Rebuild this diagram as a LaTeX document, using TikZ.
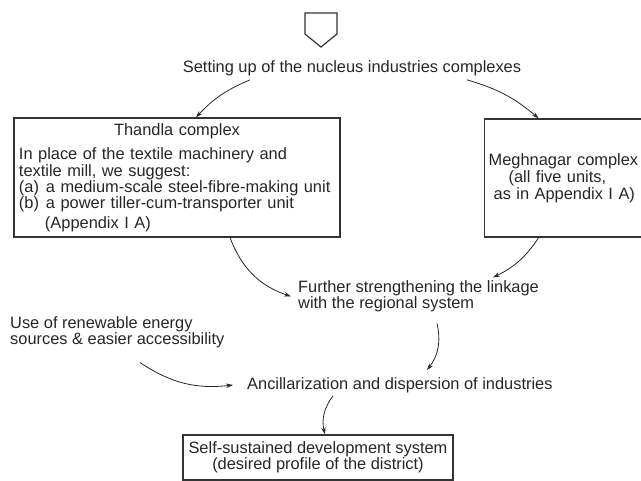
\documentclass[tikz,border=0pt]{standalone}
\usepackage{fontspec}
\setmainfont{Liberation Sans}
\usetikzlibrary{arrows.meta}

\begin{document}
\begin{tikzpicture}[x=1pt, y=-1pt,
    every node/.style={font=\fontsize{16.4}{16.4}\selectfont, text=black!85},
    box/.style={draw=black!80, line width=1.3pt, inner ysep=4pt},
    lbl/.style={inner sep=0pt, align=left},
    link/.style={draw=black!85, line width=0.8pt, -{Stealth[length=7pt,width=4.5pt]}}]
    \useasboundingbox (0,0) rectangle (641,481);

    \draw[black!80, line width=1.2pt] (305,13) -- (337,13) -- (337,34) -- (321,47) -- (305,34) -- cycle;

    \node[lbl] (setting) at (352,68) {Setting up of the nucleus industries complexes};

    \node[box, text width=316pt, inner xsep=5pt, minimum height=119pt, align=left] (thandla) at (177,177.5)
        {\centerline{Thandla complex}\vspace{8pt}
         \noindent In place of the textile machinery and\\
         textile mill, we suggest:\\
         \makebox[27pt][l]{(a)}a medium-scale steel-fibre-making unit\\
         \makebox[27pt][l]{(b)}a power tiller-cum-transporter unit\\[3pt]
         \hspace*{26pt}(Appendix I A)};

    \node[box, anchor=west, text width=158pt, inner xsep=4pt, minimum height=118pt, align=left] (meghnagar) at (484,178)
        {Meghnagar complex\\[1pt]
         \hspace*{20pt}(all five units,\\
         \hspace*{5pt}as in Appendix I A)};

    \node[lbl, anchor=west] (further) at (298,296.5)
        {Further strengthening the linkage\\with the regional system};
    \node[lbl, anchor=west] (renew) at (10,332.5)
        {Use of renewable energy\\sources \& easier accessibility};
    \node[lbl, anchor=west] (ancil) at (247,385) {Ancillarization and dispersion of industries};

    \node[box, align=center, minimum width=270pt, minimum height=45pt, inner sep=0pt] (selfsus) at (318,457.5)
        {Self-sustained development system\\(desired profile of the district)};

    \draw[link] ([xshift=-102pt,yshift=-4pt]setting.south) to[bend right=12] ([xshift=19pt]thandla.north);
    \draw[link] ([xshift=115pt,yshift=-4pt]setting.south) to[bend left=12] ([xshift=-29pt]meghnagar.north);
    \draw[link] ([xshift=53pt]thandla.south) to[bend right=25] ([xshift=-7pt]further.west);
    \draw[link] ([xshift=-29pt]meghnagar.south) to[bend left=15] ([xshift=195pt,yshift=3pt]further.north west);
    \draw[link] ([xshift=139pt,yshift=-11pt]further.south west) to[bend left=25] ([xshift=180pt,yshift=7pt]ancil.north west);
    \draw[link] ([xshift=130pt,yshift=-14pt]renew.south west) to[bend right=20] ([xshift=-14pt]ancil.west);
    \draw[link] ([xshift=86pt,yshift=-3pt]ancil.south west) to[bend right=25] ([xshift=7pt]selfsus.north);
\end{tikzpicture}
\end{document}
